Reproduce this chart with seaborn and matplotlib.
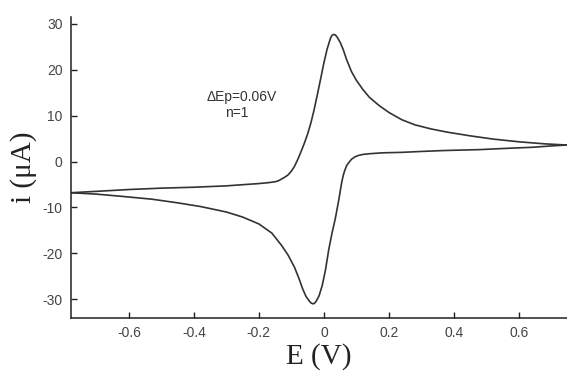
import matplotlib
matplotlib.use("Agg")
import matplotlib.pyplot as plt
import seaborn as sns
import pandas as pd

# Cyclic voltammogram: forward (anodic) sweep and reverse (cathodic) sweep
forward_E = [-0.778, -0.70, -0.60, -0.50, -0.40, -0.30, -0.24, -0.20, -0.17,
             -0.15, -0.14, -0.13, -0.12, -0.11, -0.10, -0.09, -0.08, -0.07,
             -0.06, -0.05, -0.04, -0.03, -0.02, -0.01, 0.0, 0.01, 0.02,
             0.025, 0.03, 0.035, 0.04, 0.05, 0.06, 0.07, 0.085, 0.10, 0.12,
             0.14, 0.17, 0.20, 0.24, 0.28, 0.33, 0.38, 0.45, 0.52, 0.60,
             0.68, 0.748]
forward_i = [-6.8, -6.5, -6.1, -5.8, -5.6, -5.3, -5.0, -4.8, -4.6,
             -4.4, -4.2, -3.8, -3.4, -2.9, -2.1, -1.0, 0.5, 2.2,
             4.0, 6.0, 8.4, 11.3, 14.6, 18.0, 21.5, 24.5, 26.8,
             27.5, 27.7, 27.6, 27.2, 26.0, 24.3, 22.2, 19.6, 17.7, 15.7,
             14.0, 12.2, 10.7, 9.1, 8.0, 7.1, 6.4, 5.6, 4.9, 4.3,
             3.85, 3.6]

reverse_E = [0.748, 0.70, 0.64, 0.57, 0.48, 0.37, 0.30, 0.24, 0.18, 0.14,
             0.12, 0.105, 0.095, 0.085, 0.078, 0.07, 0.065, 0.06, 0.055,
             0.045, 0.035, 0.025, 0.015, 0.005, -0.005, -0.015, -0.025,
             -0.03, -0.034, -0.04, -0.045, -0.055, -0.065, -0.075, -0.09,
             -0.11, -0.13, -0.16, -0.20, -0.25, -0.30, -0.38, -0.45, -0.53,
             -0.62, -0.70, -0.778]
reverse_i = [3.6, 3.4, 3.1, 2.9, 2.6, 2.4, 2.2, 2.0, 1.9, 1.7,
             1.55, 1.3, 1.0, 0.5, -0.1, -0.9, -1.8, -2.9, -4.5,
             -8.7, -12.5, -15.6, -19.2, -23.6, -27.0, -29.3, -30.6,
             -30.95, -31.0, -30.8, -30.4, -29.4, -27.8, -25.8, -23.1,
             -20.4, -18.3, -15.6, -13.6, -12.1, -11.0, -9.8, -9.0, -8.2,
             -7.6, -7.1, -6.8]

x_ticks = [-0.6, -0.4, -0.2, 0, 0.2, 0.4, 0.6]
x_tick_labels = ["-0.6", "-0.4", "-0.2", "0", "0.2", "0.4", "0.6"]
y_ticks = [-30, -20, -10, 0, 10, 20, 30]
y_tick_labels = ["-30", "-20", "-10", "0", "10", "20", "30"]

sns.set_style("ticks")
plt.rcParams["font.family"] = ["Liberation Sans", "DejaVu Sans"]

fig = plt.figure(figsize=(5.67, 3.77), dpi=100)
ax = fig.add_axes([71 / 567, 1 - 318 / 377, 1 - 71 / 567, (318 - 17) / 377])

line_color = "#333333"
fwd = pd.DataFrame({"E": forward_E, "i": forward_i})
rev = pd.DataFrame({"E": reverse_E, "i": reverse_i})
sns.lineplot(data=fwd, x="E", y="i", sort=False, estimator=None,
             color=line_color, linewidth=1.2, ax=ax)
sns.lineplot(data=rev, x="E", y="i", sort=False, estimator=None,
             color=line_color, linewidth=1.2, ax=ax)

ax.set_xlim(-0.778, 0.748)
ax.set_ylim(-34.1, 31.5)
ax.set_xticks(x_ticks)
ax.set_xticklabels(x_tick_labels)
ax.set_yticks(y_ticks)
ax.set_yticklabels(y_tick_labels)

for side in ("top", "right"):
    ax.spines[side].set_visible(False)
for side in ("left", "bottom"):
    ax.spines[side].set_color("#222222")
    ax.spines[side].set_linewidth(1.1)

ax.tick_params(direction="in", length=4, width=1, color="#222222",
               labelsize=10, labelcolor="#444444", pad=6)

serif = ["Liberation Serif", "DejaVu Serif"]
ax.set_xlabel("E (V)", family=serif, fontsize=21, color="#222222", labelpad=2)
ax.set_ylabel("i (\u03bcA)", family=serif, fontsize=21, color="#222222",
              labelpad=4)

ax.text(-0.252, 14.0, "\u0394Ep=0.06V", ha="center", va="center",
        fontsize=10, color="#333333")
ax.text(-0.268, 10.5, "n=1", ha="center", va="center",
        fontsize=10, color="#333333")

fig.savefig("out.png", dpi=100, facecolor="white")
